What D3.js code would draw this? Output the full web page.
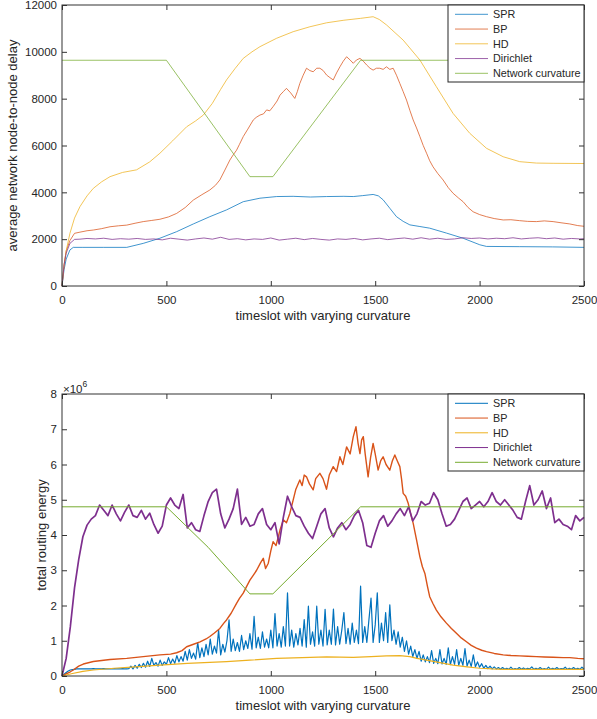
<!DOCTYPE html>
<html>
<head>
<meta charset="utf-8">
<script src="https://cdn.jsdelivr.net/npm/d3@7"></script>
<style>
  body { margin: 0; background: #fff; }
  text { font-family: "Liberation Sans", Arial, sans-serif; fill: #262626; }
</style>
</head>
<body>
<div id="chart"></div>
<script>
var seriesNames = ["SPR", "BP", "HD", "Dirichlet", "Network curvature"];
var colors = ["#0072BD", "#D95319", "#EDB120", "#7E2F8E", "#77AC30"];
var xTicks = [0, 500, 1000, 1500, 2000, 2500];
var delayTicks = [0, 2000, 4000, 6000, 8000, 10000, 12000];
var energyTicks = [0, 1, 2, 3, 4, 5, 6, 7, 8];

// ---- top panel: average node-to-node delay, [timeslot, delay]
var sprDelay = [[0,0],[10,700],[20,1150],[38,1540],[54,1650],[100,1650],[200,1650],[310,1650],[389,1820],
  [469,2040],[549,2320],[629,2650],[708,2960],[788,3250],[868,3600],[948,3750],[1028,3820],[1107,3830],
  [1190,3800],[1267,3820],[1350,3830],[1395,3820],[1440,3860],[1490,3910],[1515,3850],[1538,3680],
  [1570,3320],[1602,2960],[1634,2760],[1666,2610],[1714,2540],[1761,2470],[1841,2260],[1921,2040],
  [2001,1760],[2033,1690],[2192,1680],[2350,1670],[2500,1650]];

var bpDelay = [[0,0],[10,900],[20,1500],[38,1940],[60,2250],[86,2300],[120,2360],[150,2390],[190,2450],
  [230,2530],[270,2570],[310,2600],[350,2680],[389,2750],[430,2800],[469,2850],[510,2950],[549,3100],
  [590,3350],[629,3670],[670,3900],[708,4100],[735,4300],[756,4530],[780,4950],[804,5380],[820,5600],
  [836,5800],[850,6050],[868,6380],[890,6700],[916,7090],[930,7200],[948,7300],[965,7350],[980,7520],
  [995,7480],[1011,7660],[1030,7900],[1044,8150],[1060,8300],[1075,8440],[1095,8250],[1115,8010],
  [1127,8300],[1139,8650],[1155,9000],[1171,9300],[1187,9200],[1203,9150],[1220,9300],[1235,9300],
  [1251,9200],[1267,9010],[1283,8900],[1299,8800],[1315,9100],[1331,9360],[1347,9600],[1363,9790],
  [1380,9650],[1395,9510],[1410,9650],[1427,9720],[1443,9600],[1459,9440],[1475,9300],[1490,9220],
  [1506,9300],[1522,9300],[1538,9250],[1554,9360],[1570,9250],[1586,9300],[1602,9000],[1618,8650],
  [1634,8300],[1650,7940],[1666,7500],[1682,7090],[1698,6750],[1714,6380],[1730,6000],[1746,5670],
  [1761,5350],[1777,5090],[1800,4800],[1825,4530],[1850,4200],[1873,3960],[1900,3750],[1921,3600],
  [1945,3350],[1969,3170],[2000,3050],[2033,2960],[2070,2880],[2113,2820],[2150,2830],[2192,2790],
  [2230,2760],[2272,2750],[2310,2780],[2352,2750],[2390,2700],[2432,2650],[2470,2580],[2500,2550]];

var hdDelay = [[0,0],[10,900],[20,1500],[38,2250],[60,2900],[86,3390],[120,3850],[150,4170],[190,4450],
  [230,4670],[290,4850],[357,4960],[420,5300],[469,5670],[530,6200],[597,6800],[640,7050],[677,7300],
  [720,7800],[760,8400],[788,8800],[830,9300],[868,9720],[910,10000],[948,10220],[1028,10580],
  [1107,10860],[1187,11070],[1267,11240],[1350,11350],[1430,11430],[1490,11500],[1520,11380],
  [1554,11150],[1634,10500],[1714,9650],[1793,8510],[1873,7370],[1953,6520],[2033,5880],[2113,5520],
  [2192,5310],[2272,5250],[2352,5240],[2500,5230]];

var dirichletDelay = [[0,0],[10,900],[20,1400],[38,1820],[60,1990],[86,2000],[120,2030],[160,2010],
  [200,2040],[240,1990],[280,2020],[320,2000],[360,2030],[400,1990],[440,2010],[480,1970],[520,2040],
  [560,2000],[600,1960],[640,2010],[680,2050],[720,2000],[760,2080],[800,1990],[840,2020],[880,1970],
  [920,2010],[960,1990],[1000,2050],[1040,1960],[1080,2000],[1120,2040],[1160,1980],[1200,2030],
  [1240,1990],[1280,1960],[1320,2010],[1360,1990],[1400,2030],[1440,1970],[1480,2010],[1520,2040],
  [1560,1980],[1600,2020],[1640,2050],[1680,2000],[1720,2060],[1760,2000],[1800,2040],[1840,1990],
  [1880,2010],[1920,2060],[1960,2030],[2000,2050],[2040,2010],[2080,2040],[2120,2020],[2160,2060],
  [2200,2010],[2240,2040],[2280,2060],[2320,2020],[2360,2050],[2400,2000],[2440,2030],[2480,2010],[2500,2020]];

var curvatureDelay = [[0,9640],[500,9640],[900,4670],[1010,4670],[1430,9640],[2500,9640]];

// ---- bottom panel: total routing energy (x 10^6)
var sprEnergyStep = 10;
var sprEnergy = [
  0,0.05,0.1,0.14,0.17,0.18,0.19,0.2,0.2,0.2,
  0.2,0.2,0.2,0.2,0.2,0.21,0.2,0.2,0.2,0.2,0.21,0.2,0.2,0.2,0.2,0.21,0.2,0.2,0.2,0.21,0.2,0.2,0.21,
  0.28,0.2,0.3,0.22,0.33,0.24,0.36,0.25,0.42,0.27,0.5,0.3,0.38,0.28,0.45,0.3,0.4,
  0.33,0.52,0.35,0.48,0.36,0.58,0.4,0.55,0.42,0.7,
  0.45,0.75,0.5,0.65,0.48,0.95,0.52,0.8,0.55,0.9,
  0.6,1.05,0.62,0.85,0.65,1.3,0.6,0.9,0.68,1.0,
  1.59,0.7,1.05,0.72,0.95,0.7,1.15,0.75,1.0,0.78,
  1.2,0.76,1.69,0.8,1.1,0.78,1.25,0.82,1.05,0.8,
  1.3,0.8,1.77,0.85,1.2,0.82,1.4,0.85,2.36,0.85,
  1.3,0.82,1.2,0.88,1.35,0.85,1.6,0.82,1.98,0.9,
  1.25,0.85,1.98,0.9,1.3,0.85,1.89,0.88,1.3,0.9,
  1.9,0.88,1.4,0.9,1.3,1.8,0.92,1.35,0.9,1.5,
  0.95,1.3,0.92,2.55,0.95,1.4,0.95,1.6,2.21,0.95,
  1.45,2.36,0.95,1.5,1.0,1.8,0.95,2.02,1.0,1.3,
  0.9,1.25,0.82,1.1,0.7,1.0,0.62,0.85,0.55,0.75,
  0.5,0.7,0.42,0.6,0.4,0.55,0.38,0.72,0.36,0.5,
  0.35,0.75,0.34,0.5,0.33,0.8,0.32,0.55,0.33,0.75,
  0.3,0.5,0.3,0.78,0.28,0.45,0.27,0.6,0.26,0.4,
  0.25,0.35,0.22,0.3,0.21,0.28,0.2,0.26,0.2,0.24,
  0.19,0.24,0.19,0.22,0.19,0.25,0.19,0.21,0.19,0.24,
  0.19,0.23,0.19,0.22,0.2,0.26,0.19,0.22,0.19,0.24,
  0.19,0.21,0.19,0.25,0.19,0.22,0.19,0.24,0.19,0.21,
  0.2,0.25,0.19,0.22,0.19,0.24,0.19,0.22,0.19,0.25,
  0.2];

var bpEnergy = [[0,0],[20,0.06],[40,0.12],[54,0.17],[80,0.28],[102,0.34],[150,0.41],[230,0.47],[310,0.5],
  [389,0.55],[469,0.6],[520,0.62],[549,0.66],[575,0.72],[597,0.83],[630,0.9],[661,0.97],[690,1.05],
  [708,1.12],[730,1.22],[756,1.35],[775,1.5],[788,1.59],[810,1.78],[836,2.06],[850,2.2],[868,2.35],
  [885,2.55],[900,2.72],[915,2.85],[932,3.0],[950,3.2],[964,3.34],[975,3.05],[988,3.2],[1000,3.55],
  [1011,3.81],[1025,3.7],[1044,4.14],[1060,4.43],[1075,4.35],[1091,4.61],[1107,4.99],[1120,5.3],
  [1139,5.56],[1150,5.4],[1160,5.7],[1171,5.65],[1185,5.45],[1203,5.28],[1215,5.6],[1235,5.75],
  [1250,5.6],[1267,5.3],[1280,5.7],[1299,5.94],[1315,5.8],[1331,6.22],[1345,6.0],[1363,6.5],[1380,6.3],
  [1395,6.79],[1408,7.07],[1418,6.6],[1427,6.31],[1435,6.7],[1443,6.79],[1452,6.3],[1466,5.65],
  [1478,6.2],[1490,6.6],[1500,6.3],[1514,5.84],[1526,6.1],[1538,6.22],[1552,6.0],[1570,5.84],[1582,6.1],
  [1594,6.27],[1606,6.1],[1618,5.94],[1626,5.6],[1634,5.18],[1646,5.1],[1658,4.9],[1670,4.6],[1682,4.33],
  [1698,3.86],[1714,3.38],[1726,3.1],[1738,2.91],[1750,2.55],[1761,2.25],[1777,2.05],[1793,1.87],
  [1815,1.68],[1841,1.5],[1865,1.35],[1889,1.21],[1912,1.08],[1937,0.97],[1960,0.87],[1985,0.79],
  [2010,0.73],[2033,0.69],[2070,0.64],[2113,0.6],[2150,0.58],[2192,0.57],[2230,0.56],[2272,0.55],
  [2310,0.54],[2352,0.53],[2400,0.52],[2432,0.52],[2470,0.5],[2500,0.49]];

var hdEnergy = [[0,0],[50,0.07],[100,0.13],[150,0.17],[250,0.22],[350,0.26],[469,0.31],[600,0.36],
  [788,0.41],[900,0.45],[1028,0.5],[1150,0.52],[1267,0.54],[1395,0.53],[1480,0.55],[1554,0.57],
  [1618,0.58],[1666,0.55],[1700,0.5],[1746,0.45],[1810,0.38],[1873,0.31],[1940,0.26],[2001,0.22],
  [2060,0.2],[2113,0.19],[2300,0.19],[2500,0.19]];

var dirichletEnergyStep = 20;
var dirichletEnergy = [
  0,0.5,1.4,2.5,3.3,3.95,4.28,4.45,4.55,4.85,
  4.7,4.55,4.85,4.6,4.4,4.65,4.85,4.55,4.5,4.7,
  4.45,4.62,4.3,4.05,4.25,4.85,5.05,4.85,4.75,5.15,
  4.2,4.35,4.15,4.1,4.55,4.95,5.2,5.3,4.6,4.2,
  4.45,4.75,5.3,4.3,4.5,4.25,4.3,4.6,4.75,4.3,
  4.15,4.35,3.75,4.5,5.1,4.8,4.55,4.5,4.25,4.05,
  3.9,4.25,4.6,4.75,4.2,3.95,4.2,4.35,4.15,4.3,
  4.55,4.7,4.35,3.7,3.65,4.05,4.4,4.55,4.25,4.4,
  4.6,4.75,4.55,4.8,4.4,4.6,4.95,4.85,4.9,5.2,
  5.0,4.6,4.25,4.3,4.45,4.7,4.95,5.05,4.75,4.85,
  4.95,4.8,4.95,5.2,4.95,4.85,5.0,4.85,4.7,4.5,
  4.45,4.95,5.4,4.85,5.0,5.25,4.75,5.05,4.35,4.45,
  4.3,4.25,4.15,4.55,4.4,4.5];

var curvatureEnergy = [[0,4.8],[500,4.8],[700,3.65],[900,2.33],[1010,2.33],[1430,4.8],[2500,4.8]];

function stepped(values, step) {
  return values.map(function (v, i) { return [i * step, v]; });
}

var svg = d3.select("#chart").append("svg")
  .attr("width", 597)
  .attr("height", 719);

var left = 62, right = 584;

function drawPanel(opt) {
  var x = d3.scaleLinear().domain([0, 2500]).range([left, right]);
  var y = d3.scaleLinear().domain([0, opt.yMax]).range([opt.bottom, opt.top]);
  var g = svg.append("g");

  var line = d3.line()
    .x(function (d) { return x(d[0]); })
    .y(function (d) { return y(d[1]); });

  opt.series.forEach(function (s, i) {
    g.append("path")
      .datum(s)
      .attr("fill", "none")
      .attr("stroke", colors[i])
      .attr("stroke-width", opt.widths[i])
      .attr("stroke-opacity", opt.opacity)
      .attr("stroke-linejoin", "round")
      .attr("d", line);
  });

  // ticks on all four sides, pointing in
  var axes = [
    g.append("g").attr("transform", "translate(0," + opt.bottom + ")")
      .call(d3.axisBottom(x).tickValues(xTicks).tickFormat(d3.format("d")).tickSize(-5).tickPadding(10)),
    g.append("g").attr("transform", "translate(" + left + ",0)")
      .call(d3.axisLeft(y).tickValues(opt.yTicks).tickFormat(d3.format("d")).tickSize(-5).tickPadding(5)),
    g.append("g").attr("transform", "translate(0," + opt.top + ")")
      .call(d3.axisTop(x).tickValues(xTicks).tickSize(-5).tickFormat("")),
    g.append("g").attr("transform", "translate(" + right + ",0)")
      .call(d3.axisRight(y).tickValues(opt.yTicks).tickSize(-5).tickFormat(""))
  ];
  axes.forEach(function (a) {
    a.select(".domain").remove();
    a.selectAll("line").attr("stroke", "#333");
    a.selectAll("text").style("font-size", "11.5px");
  });

  g.append("rect")
    .attr("x", left).attr("y", opt.top)
    .attr("width", right - left).attr("height", opt.bottom - opt.top)
    .attr("fill", "none").attr("stroke", "#333");

  g.append("text")
    .attr("x", (left + right) / 2)
    .attr("y", opt.bottom + 34)
    .attr("text-anchor", "middle")
    .style("font-size", "13px")
    .text("timeslot with varying curvature");

  g.append("text")
    .attr("transform", "translate(" + opt.labelX + "," + (opt.top + opt.bottom) / 2 + ") rotate(-90)")
    .attr("text-anchor", "middle")
    .style("font-size", "13px")
    .text(opt.yLabel);

  // legend
  var lg = g.append("g").attr("transform", "translate(448," + opt.top + ")");
  lg.append("rect")
    .attr("width", right - 448).attr("height", 77)
    .attr("fill", "#fff").attr("stroke", "#262626");
  seriesNames.forEach(function (name, i) {
    var ly = 9.3 + i * 14.75;
    lg.append("line")
      .attr("x1", 7).attr("x2", 40).attr("y1", ly).attr("y2", ly)
      .attr("stroke", colors[i]).attr("stroke-width", 1)
      .attr("stroke-opacity", opt.opacity);
    lg.append("text")
      .attr("x", 45).attr("y", ly).attr("dy", "0.35em")
      .style("font-size", "10.8px")
      .text(name);
  });
  return g;
}

drawPanel({
  top: 5, bottom: 286, yMax: 12000, yTicks: delayTicks,
  yLabel: "average network node-to-node delay", labelX: 17,
  series: [sprDelay, bpDelay, hdDelay, dirichletDelay, curvatureDelay],
  widths: [1, 1, 1, 1, 1], opacity: 0.75
});

var energyPanel = drawPanel({
  top: 394, bottom: 676, yMax: 8, yTicks: energyTicks,
  yLabel: "total routing energy", labelX: 46,
  series: [stepped(sprEnergy, sprEnergyStep), bpEnergy, hdEnergy,
           stepped(dirichletEnergy, dirichletEnergyStep), curvatureEnergy],
  widths: [1.2, 1.4, 1.2, 1.7, 1], opacity: 1
});

var mult = energyPanel.append("text")
  .attr("x", 63).attr("y", 393)
  .style("font-size", "11.5px");
mult.append("tspan").text("\u00d710");
mult.append("tspan").attr("dy", -6).style("font-size", "8.5px").text("6");
</script>
</body>
</html>
